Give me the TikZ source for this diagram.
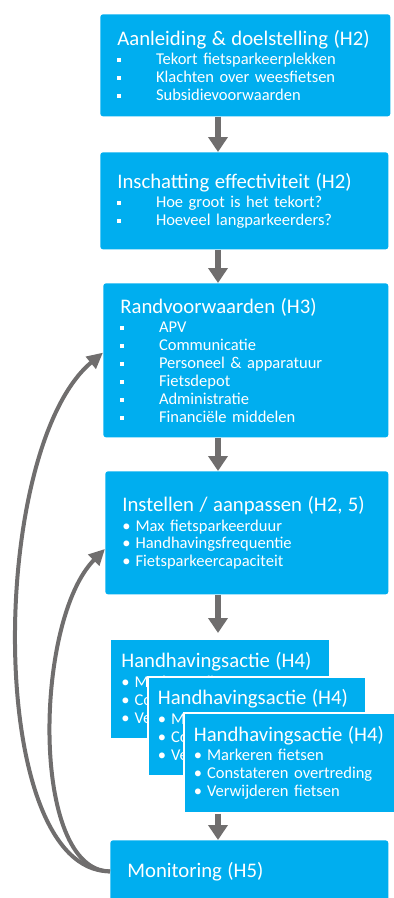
\documentclass[tikz,border=0pt]{standalone}
\usepackage{fontspec}
\setmainfont{Carlito}
\usepackage{xcolor}
\usepackage{tikz}
\usetikzlibrary{arrows.meta,calc}

\definecolor{faseblauw}{RGB}{0,174,239}
\definecolor{pijlgrijs}{RGB}{112,110,110}

\newcommand{\titel}[1]{{\fontsize{11.8}{13}\selectfont #1}}
\newcommand{\blok}[1]{\makebox[22pt][l]{\raisebox{1.6pt}{\rule{2.2pt}{2.2pt}}}#1}
\newcommand{\punt}[1]{\makebox[7.5pt][l]{\textbullet}#1}

\begin{document}
\begin{tikzpicture}[x=0.02cm, y=-0.02cm,
    fase/.style={fill=faseblauw, text=white, rounded corners=1.5pt, anchor=north west, align=left,
                 inner xsep=0.34cm, inner ysep=0pt, font=\fontsize{9.4}{10.2}\selectfont},
    actie/.style={fase, rounded corners=0pt, inner xsep=0.2cm},
    pijl/.style={pijlgrijs, line width=0.13cm, -{Triangle[width=0.38cm,length=0.3cm]}},
    terug/.style={pijlgrijs, line width=0.08cm, -{Triangle[width=0.3cm,length=0.32cm]}}]
    \useasboundingbox (0,0) rectangle (394,898);

    % Phases
    \node[fase, text width=5.12cm, minimum height=2.04cm] (aanleiding) at (100,14)
        {\titel{Aanleiding \& doelstelling (H2)}\\[1pt]
         \blok{Tekort fietsparkeerplekken}\\ \blok{Klachten over weesfietsen}\\ \blok{Subsidievoorwaarden}};
    \node[fase, text width=5.08cm, minimum height=1.94cm] (inschatting) at (100,152)
        {\titel{Inschatting effectiviteit (H2)}\\[1pt]
         \blok{Hoe groot is het tekort?}\\ \blok{Hoeveel langparkeerders?}};
    \node[fase, text width=5.02cm, minimum height=3.08cm] (randvoorwaarden) at (103,283)
        {\titel{Randvoorwaarden (H3)}\\[1pt]
         \blok{APV}\\ \blok{Communicatie}\\ \blok{Personeel \& apparatuur}\\
         \blok{Fietsdepot}\\ \blok{Administratie}\\ \blok{Financiële middelen}};
    \node[fase, text width=4.98cm, minimum height=2.46cm] (instellen) at (105,471)
        {\titel{Instellen / aanpassen (H2, 5)}\\[1pt]
         \punt{Max fietsparkeerduur}\\ \punt{Handhavingsfrequentie}\\ \punt{Fietsparkeercapaciteit}};

    % Stacked enforcement actions
    \node[actie, text width=3.96cm, minimum height=1.96cm] (actieA) at (111,640)
        {\titel{Handhavingsactie (H4)}\\[1pt]
         \punt{Markeren fietsen}\\ \punt{Constateren overtreding}\\ \punt{Verwijderen fietsen}};
    \node[actie, draw=white, line width=1pt, text width=3.96cm, minimum height=1.98cm] (actieB) at (147,676)
        {\titel{Handhavingsactie (H4)}\\[1pt]
         \punt{Markeren fietsen}\\ \punt{Constateren overtreding}\\ \punt{Verwijderen fietsen}};
    \node[actie, draw=white, line width=1pt, text width=3.96cm, minimum height=2.0cm] (actieC) at (183,712)
        {\titel{Handhavingsactie (H4)}\\[1pt]
         \punt{Markeren fietsen}\\ \punt{Constateren overtreding}\\ \punt{Verwijderen fietsen}};

    \node[fase, text width=4.88cm, minimum height=1.24cm] (monitoring) at (110,840)
        {\titel{Monitoring (H5)}};

    % Main flow
    \coordinate (as) at (218,0);
    \draw[pijl] (aanleiding.south -| as) -- (inschatting.north -| as);
    \draw[pijl] (inschatting.south -| as) -- (randvoorwaarden.north -| as);
    \draw[pijl] (randvoorwaarden.south -| as) -- (instellen.north -| as);
    \draw[pijl, shorten >=0.14cm] (instellen.south -| as) -- (actieA.north -| as);
    \draw[pijl] (actieC.south -| as) -- (monitoring.north -| as);

    % Feedback loops
    \draw[terug] (monitoring.west) .. controls +(-125,0) and +(-115,96) ..
        ($(randvoorwaarden.north west)!0.45!(randvoorwaarden.south west)$);
    \draw[terug] (monitoring.west) .. controls +(-80,0) and +(-71,71) ..
        ($(instellen.north west)!0.63!(instellen.south west)$);
\end{tikzpicture}
\end{document}
